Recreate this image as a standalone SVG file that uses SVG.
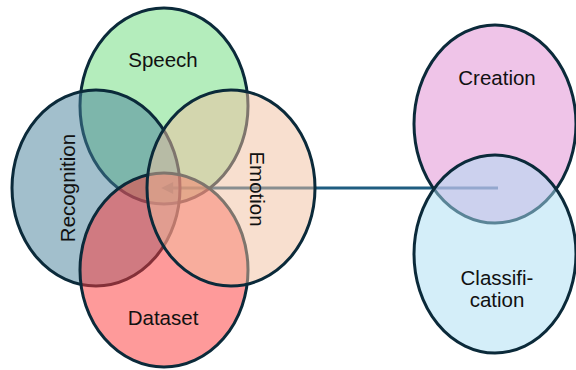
<svg xmlns="http://www.w3.org/2000/svg" width="576" height="370" viewBox="0 0 576 370">
<defs>
<style>
.e{stroke:#0b2a3a;stroke-width:3;fill-opacity:0.5}
.t{font-family:"Liberation Sans",Arial,sans-serif;font-size:20.5px;fill:#111;text-anchor:middle}
.c{stroke:#1f5d80;stroke-width:3;fill:none}
</style>
<marker id="ah" viewBox="0 0 10 10" refX="1" refY="5" markerWidth="6" markerHeight="4" orient="auto-start-reverse" markerUnits="strokeWidth">
<path d="M0,0 L10,5 L0,10 Z" fill="#1f5d80"/>
</marker>
</defs>
<rect width="576" height="370" fill="#fff"/>
<g id="connectors">
<line class="c" x1="498" y1="188" x2="172" y2="188" marker-end="url(#ah)"/>
</g>
<g id="speech"><ellipse class="e" cx="164" cy="106" rx="84" ry="98" fill="#69db7a"/><text class="t" x="163" y="67">Speech</text></g>
<g id="recognition"><ellipse class="e" cx="96" cy="188" rx="84" ry="98" fill="#457f99"/><text class="t" transform="translate(75,188) rotate(-90)">Recognition</text></g>
<g id="dataset"><ellipse class="e" cx="164" cy="270" rx="84" ry="97" fill="#fd3535"/><text class="t" x="163" y="325">Dataset</text></g>
<g id="emotion"><ellipse class="e" cx="231" cy="188" rx="84" ry="98" fill="#f1bf9f"/><text class="t" transform="translate(250,189) rotate(90)">Emotion</text></g>
<g id="creation"><ellipse class="e" cx="495" cy="124" rx="81" ry="99" fill="#df89d1"/><text class="t" x="497" y="85">Creation</text></g>
<g id="classification"><ellipse class="e" cx="495" cy="254" rx="81" ry="99" fill="#a9ddf3"/><text class="t" x="497" y="285">Classifi-</text><text class="t" x="497" y="307">cation</text></g>
</svg>
